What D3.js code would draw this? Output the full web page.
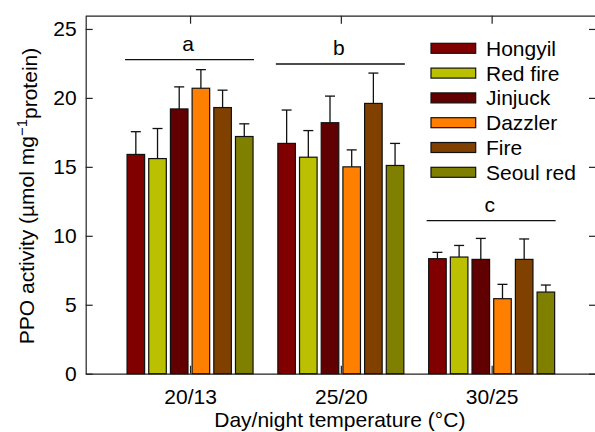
<!DOCTYPE html>
<html>
<head>
<meta charset="utf-8">
<script src="https://cdn.jsdelivr.net/npm/d3@7"></script>
<style>
  body { margin: 0; background: #fff; }
  svg text { font-family: "Liberation Sans", Arial, sans-serif; fill: #000; }
</style>
</head>
<body>
<div class="chartDiv"></div>
<script>
(function(){
  // data
  var temps     = ["20/13", "25/20", "30/25"];
  var cultivars = ["Hongyil", "Red fire", "Jinjuck", "Dazzler", "Fire", "Seoul red"];
  var colors    = ["#800000", "#bbc000", "#600000", "#ff8000", "#804000", "#808000"];
  // mean PPO activity per temperature, one array per cultivar
  var means = [
    [15.9, 16.7, 8.34],
    [15.6, 15.7, 8.46],
    [19.2, 18.2, 8.29],
    [20.7, 15.0, 5.44],
    [19.3, 19.6, 8.29],
    [17.2, 15.1, 5.92]
  ];
  var errs = [
    [1.65, 2.42, 0.46],
    [2.18, 1.93, 0.84],
    [1.60, 1.93, 1.52],
    [1.35, 1.23, 1.04],
    [1.26, 2.20, 1.48],
    [0.92, 1.60, 0.51]
  ];
  var letters   = ["a", "b", "c"];
  var letterY   = [22.77, 22.46, 11.1];
  var yTicks    = [0, 5, 10, 15, 20, 25];

  var width  = 595, height = 432;
  var x0 = 85.7, x1 = 596, yTop = 15.7, yBot = 373.7;
  var fs = "21px";

  var svg = d3.select(".chartDiv").append("svg")
      .attr("width", width).attr("height", height);

  var y = d3.scaleLinear().domain([0, 26]).range([yBot, yBot - 26 * 13.79]);
  var x = d3.scalePoint().domain(temps).range([x0, x1]).padding(0.692);
  var xIn = d3.scaleBand().domain(cultivars).range([-63, 63]).paddingInner(0.19);

  var rows = [];
  temps.forEach(function(t, j){
    cultivars.forEach(function(c, i){
      rows.push({temp: t, cult: c, color: colors[i], v: means[i][j], e: errs[i][j]});
    });
  });

  // frame axes, ticks pointing inward
  var axStyle = function(g){
    g.selectAll("path, line").attr("stroke", "#222").attr("stroke-width", 1.2);
    g.selectAll("text").attr("font-size", fs).attr("font-family", "Liberation Sans, Arial, sans-serif");
  };
  svg.append("g").attr("transform", "translate(" + x0 + ",0)")
      .call(d3.axisLeft(y).tickValues(yTicks).tickSizeInner(-7).tickSizeOuter(0).tickPadding(9))
      .call(axStyle);
  svg.append("g").attr("transform", "translate(" + x1 + ",0)")
      .call(d3.axisRight(y).tickValues(yTicks).tickSizeInner(-7).tickSizeOuter(0).tickFormat(""))
      .call(axStyle);
  svg.append("g").attr("transform", "translate(0," + yTop + ")")
      .call(d3.axisTop(x).tickSizeInner(-8).tickSizeOuter(0).tickFormat(""))
      .call(axStyle);
  svg.append("g").attr("transform", "translate(0," + yBot + ")")
      .call(d3.axisBottom(x).tickSizeInner(-8).tickSizeOuter(0).tickPadding(15))
      .call(axStyle);

  // bars
  svg.selectAll("rect.bar").data(rows).enter().append("rect")
      .attr("class", "bar")
      .attr("x", function(d){ return x(d.temp) + xIn(d.cult); })
      .attr("y", function(d){ return y(d.v); })
      .attr("width", xIn.bandwidth())
      .attr("height", function(d){ return y(0) - y(d.v); })
      .attr("fill", function(d){ return d.color; })
      .attr("stroke", "#111").attr("stroke-width", 1.2);

  // upper error bars
  var cx = function(d){ return x(d.temp) + xIn(d.cult) + xIn.bandwidth() / 2; };
  svg.selectAll("line.err").data(rows).enter().append("line")
      .attr("x1", cx).attr("x2", cx)
      .attr("y1", function(d){ return y(d.v); })
      .attr("y2", function(d){ return y(d.v + d.e); })
      .attr("stroke", "#111").attr("stroke-width", 1.3);
  svg.selectAll("line.cap").data(rows).enter().append("line")
      .attr("x1", function(d){ return cx(d) - 5; }).attr("x2", function(d){ return cx(d) + 5; })
      .attr("y1", function(d){ return y(d.v + d.e); })
      .attr("y2", function(d){ return y(d.v + d.e); })
      .attr("stroke", "#111").attr("stroke-width", 1.3);

  // significance letters
  temps.forEach(function(t, j){
    svg.append("line")
        .attr("x1", x(t) - 65).attr("x2", x(t) + 64)
        .attr("y1", y(letterY[j])).attr("y2", y(letterY[j]))
        .attr("stroke", "#111").attr("stroke-width", 1.3);
    svg.append("text")
        .attr("x", x(t) - 2).attr("y", y(letterY[j]) - 9)
        .attr("text-anchor", "middle").attr("font-size", fs)
        .text(letters[j]);
  });

  // legend
  var leg = svg.append("g").attr("transform", "translate(431,48.3)");
  cultivars.forEach(function(c, i){
    var g = leg.append("g").attr("transform", "translate(0," + (i * 24.8) + ")");
    g.append("rect").attr("x", 0).attr("y", -5).attr("width", 44.7).attr("height", 10)
        .attr("fill", colors[i]).attr("stroke", "#111").attr("stroke-width", 1.2);
    g.append("text").attr("x", 55).attr("y", 0).attr("dy", "0.36em")
        .attr("font-size", fs).text(c);
  });

  // axis titles
  svg.append("text")
      .attr("x", (x0 + x1) / 2 - 1).attr("y", 427)
      .attr("text-anchor", "middle").attr("font-size", fs)
      .text("Day/night temperature (\u00B0C)");

  var yl = svg.append("text")
      .attr("transform", "translate(34,196) rotate(-90)")
      .attr("text-anchor", "middle").attr("font-size", fs);
  yl.append("tspan").text("PPO activity (\u00B5mol mg");
  yl.append("tspan").attr("dy", "-0.45em").attr("font-size", "15px").text("\u22121");
  yl.append("tspan").attr("dy", "0.45em").text("protein)");
})();
</script>
</body>
</html>
